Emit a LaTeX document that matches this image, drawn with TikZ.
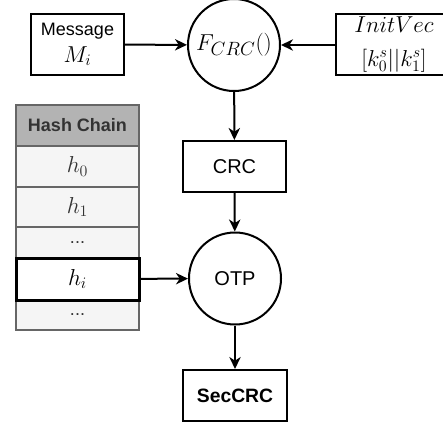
\documentclass[tikz,border=0pt]{standalone}
\usepackage{fontspec}
\setmainfont{Liberation Sans}
\usetikzlibrary{arrows.meta}
\definecolor{hdr}{HTML}{B3B3B3}
\definecolor{rowf}{HTML}{F5F5F5}
\definecolor{rowd}{HTML}{666666}
\definecolor{txt}{HTML}{333333}
\newcommand{\mth}[2][18]{{\fontsize{#1}{20}\selectfont$#2$}}
\begin{document}
\begin{tikzpicture}[x=0.75pt,y=-0.75pt,
  box/.style={draw=black,line width=1.5pt,fill=white,inner sep=0pt,font=\fontsize{13.5}{15}\selectfont,align=center},
  circ/.style={draw=black,line width=1.5pt,fill=white,circle,inner sep=0pt,minimum size=69pt,font=\fontsize{15}{17}\selectfont},
  cell/.style={draw=rowd,line width=1.5pt,fill=rowf,inner sep=0pt,minimum width=92.25pt,font=\fontsize{13.5}{15}\selectfont,text=txt},
  conn/.style={line width=1.5pt,-{Stealth[length=9pt,width=8.5pt,inset=2.8pt]}}]
\useasboundingbox (0,0) rectangle (443,425);
\begin{scope}
\clip (0,0) rectangle (443,425);
% top row
\node[box,minimum width=69.75pt,minimum height=45.75pt] (msg) at (77.5,44.5) {Message\\[5pt]\mth{M_i}};
\node[circ] (fcrc) at (234,45) {\mth[19]{F_{CRC}()}};
\node[box,minimum width=87pt,minimum height=45.75pt] (init) at (394,44.5) {\mth[16]{InitVec}\\[10pt]\mth{[k_0^s||k_1^s]}};
% middle column
\node[box,minimum width=77.25pt,minimum height=38.25pt,font=\fontsize{15}{17}\selectfont] (crc) at (234.5,166.5) {CRC};
\node[circ] (otp) at (235,278.5) {OTP};
\node[box,minimum width=78pt,minimum height=38.25pt,font=\fontsize{14.5}{16}\selectfont\bfseries] (sec) at (235,395.5) {SecCRC};
% hash chain
\node[cell,fill=hdr,minimum height=30.75pt,font=\fontsize{13.5}{15}\selectfont\bfseries] (hc) at (77.5,125.5) {Hash Chain};
\node[cell,minimum height=30.75pt] (h0) at (77.5,166.5) {\mth{h_0}};
\node[cell,minimum height=30pt] (h1) at (77.5,207) {\mth{h_1}};
\node[cell,minimum height=23.25pt] (d1) at (77.5,242.5) {...};
\node[cell,minimum height=22.5pt] (d2) at (77.5,315) {...};
\node[cell,draw=black,fill=white,line width=2.25pt,minimum height=31.5pt,text=black] (hi) at (77.5,279) {\mth{h_i}};
% connectors
\draw[conn] (msg) -- (fcrc);
\draw[conn] (init.west |- fcrc) -- (fcrc);
\draw[conn] (fcrc) -- (crc);
\draw[conn] (crc) -- (otp);
\draw[conn] (hi) -- (otp);
\draw[conn] (otp) -- (sec);
\end{scope}
\end{tikzpicture}
\end{document}
